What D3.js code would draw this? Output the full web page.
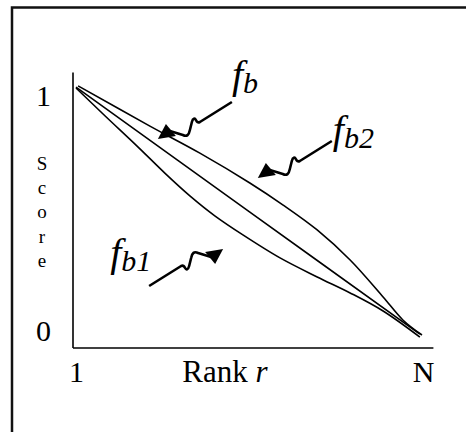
<!DOCTYPE html>
<html>
<head>
<meta charset="utf-8">
<script src="https://cdn.jsdelivr.net/npm/d3@7/dist/d3.min.js"></script>
<style>
  body { margin: 0; background: #fff; }
  svg { display: block; font-family: "Liberation Serif", "Times New Roman", serif; }
</style>
</head>
<body>
<svg></svg>
<script>
// rank goes from 1 (0) to N (1), score from 0 to 1
const fb2Rank  = [0.006, 0.213, 0.357, 0.501, 0.597, 0.695, 0.790, 0.885, 0.942, 0.997];
const fb2Score = [1.043, 0.872, 0.757, 0.630, 0.536, 0.430, 0.302, 0.145, 0.047, -0.017];
const fbRank   = [0, 0.5, 0.991];
const fbScore  = [1.038, 0.507, -0.013];
const fb1Rank  = [0, 0.084, 0.176, 0.256, 0.329, 0.401, 0.481, 0.588, 0.695, 0.790, 0.885, 0.991];
const fb1Score = [1.034, 0.915, 0.787, 0.672, 0.574, 0.489, 0.409, 0.311, 0.230, 0.162, 0.085, -0.026];

const xTicks = [0, 1];
const xTickLabels = ['1', 'N'];
const yTicks = [0, 1];
const yTickLabels = ['0', '1'];

// arrows: where the tip points at, and which way it faces
const arrowTipRank  = [0.236, 0.524, 0.424];
const arrowTipScore = [0.817, 0.651, 0.349];
const arrowDir      = [1, 1, -1];
const arrowSub      = ['b', 'b2', 'b1'];

const width = 466;
const height = 432;

const svg = d3.select('svg')
    .attr('width', width)
    .attr('height', height);

// frame, only left and top end up in the window
svg.append('rect')
    .attr('x', 12).attr('y', 7.5)
    .attr('width', 600).attr('height', 600)
    .attr('fill', 'none')
    .attr('stroke', '#111')
    .attr('stroke-width', 2.5);

const x = d3.scaleLinear().domain([0, 1]).range([76, 423]);
const y = d3.scaleLinear().domain([0, 1]).range([331, 96]);

const axisX = 73;
const axisY = 348;

// axis lines
svg.append('line')
    .attr('x1', axisX).attr('x2', axisX)
    .attr('y1', y(1.1)).attr('y2', axisY)
    .attr('stroke', '#000').attr('stroke-width', 1.6);
svg.append('line')
    .attr('x1', axisX).attr('x2', x(1.03))
    .attr('y1', axisY).attr('y2', axisY)
    .attr('stroke', '#000').attr('stroke-width', 1.6);

const xAxis = d3.axisBottom(x)
    .tickValues(xTicks)
    .tickSize(0)
    .tickPadding(13)
    .tickFormat((d, i) => xTickLabels[i]);
const gx = svg.append('g')
    .attr('transform', `translate(0,${axisY})`)
    .call(xAxis);
gx.select('.domain').remove();
gx.selectAll('text')
    .attr('font-size', 30)
    .attr('font-family', '"Liberation Serif", serif')
    .attr('fill', '#000');

const yAxis = d3.axisLeft(y)
    .tickValues(yTicks)
    .tickSize(0)
    .tickPadding(22)
    .tickFormat((d, i) => yTickLabels[i]);
const gy = svg.append('g')
    .attr('transform', `translate(${axisX},0)`)
    .call(yAxis);
gy.select('.domain').remove();
gy.selectAll('text')
    .attr('font-size', 30)
    .attr('font-family', '"Liberation Serif", serif')
    .attr('fill', '#000');

// axis titles
const rankLabel = svg.append('text')
    .attr('x', 225).attr('y', 382)
    .attr('text-anchor', 'middle')
    .attr('font-size', 31);
rankLabel.append('tspan').text('Rank ');
rankLabel.append('tspan').attr('font-style', 'italic').text('r');

const scoreLabel = svg.append('text')
    .attr('font-size', 19)
    .attr('text-anchor', 'middle');
'Score'.split('').forEach((c, i) => {
    scoreLabel.append('tspan')
        .attr('x', 42)
        .attr('y', 170 + i * 24.2)
        .text(c);
});

// curves
const line = d3.line()
    .x(d => x(d[0]))
    .y(d => y(d[1]))
    .curve(d3.curveCatmullRom);

[[fb2Rank, fb2Score], [fbRank, fbScore], [fb1Rank, fb1Score]].forEach(([r, s]) => {
    svg.append('path')
        .attr('d', line(d3.zip(r, s)))
        .attr('fill', 'none')
        .attr('stroke', '#000')
        .attr('stroke-width', 1.6);
});

// squiggly arrows, drawn facing down-left, flipped for the other one
const head = [[0, 0], [8, -15], [18, -3]];
const tail = 'M12,-8 L25,-4 C29,-2 31,-4 32,-9 L34,-17 C35,-21 37,-21 38,-19 C39,-17 40,-16 42,-17 L74,-37';
const labelOffset = [[74, -51], [75, -35], [-113, 17]];

arrowTipRank.forEach((r, i) => {
    const g = svg.append('g')
        .attr('transform', `translate(${x(r)},${y(arrowTipScore[i])}) rotate(${arrowDir[i] > 0 ? 0 : 180})`);
    g.append('path')
        .attr('d', 'M' + head.join('L') + 'Z')
        .attr('fill', '#000');
    g.append('path')
        .attr('d', tail)
        .attr('fill', 'none')
        .attr('stroke', '#000')
        .attr('stroke-width', 2.6)
        .attr('stroke-linejoin', 'round');

    const t = svg.append('text')
        .attr('x', x(r) + labelOffset[i][0])
        .attr('y', y(arrowTipScore[i]) + labelOffset[i][1])
        .attr('font-style', 'italic');
    t.append('tspan').attr('font-size', 40).text('f');
    t.append('tspan').attr('font-size', 30).attr('dy', 5).text(arrowSub[i]);
});
</script>
</body>
</html>
